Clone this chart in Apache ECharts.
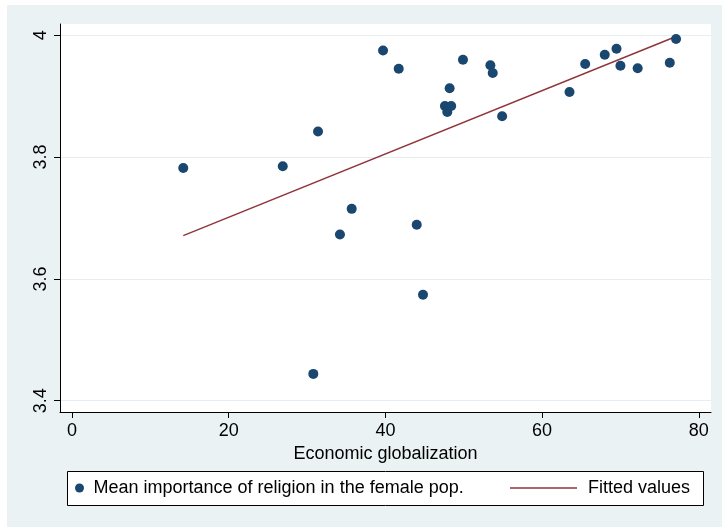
<!DOCTYPE html>
<html>
<head>
<meta charset="utf-8">
<script src="https://cdn.jsdelivr.net/npm/echarts@6/dist/echarts.min.js"></script>
<style>
html,body{margin:0;padding:0;background:#fff;}
#chart{width:722px;height:527px;}
</style>
</head>
<body>
<div id="chart"></div>
<script>
// Data
const globalization = [14.2, 26.9, 31.4, 30.8, 34.2, 35.7, 39.7, 41.7, 44.0, 44.8, 47.6, 47.9, 48.2, 48.4, 49.9, 53.4, 53.7, 54.9, 63.5, 65.5, 68.0, 69.5, 70.0, 72.2, 76.3, 77.1];
const religionImportance = [3.782, 3.785, 3.842, 3.444, 3.673, 3.715, 3.975, 3.945, 3.689, 3.574, 3.884, 3.874, 3.913, 3.884, 3.960, 3.951, 3.938, 3.867, 3.907, 3.953, 3.968, 3.978, 3.950, 3.946, 3.955, 3.994];
const fittedX = [14.2, 77.1];
const fittedY = [3.671, 3.998];
const xTicks = [0, 20, 40, 60, 80];
const yTicks = [3.4, 3.6, 3.8, 4];
const seriesNames = ['Mean importance of religion in the female pop.', 'Fitted values'];
const xTitle = 'Economic globalization';

const FONT = 'Liberation Sans, Arial, Helvetica, sans-serif';
const scatterData = globalization.map((x, i) => [x, religionImportance[i]]);
const fittedData = fittedX.map((x, i) => [x, fittedY[i]]);

const chart = echarts.init(document.getElementById('chart'), null, {renderer: 'canvas'});
chart.setOption({
  animation: false,
  textStyle: {fontFamily: FONT},
  graphic: [
    {type: 'rect', z: -20, silent: true, shape: {x: 7, y: 5, width: 715, height: 522}, style: {fill: '#EAF2F3'}},
    {type: 'rect', z: -10, silent: true, shape: {x: 67.5, y: 471.5, width: 636, height: 34}, style: {fill: '#fff', stroke: '#000', lineWidth: 1}}
  ],
  grid: {left: 60, top: 24, right: 11, bottom: 115, show: true, backgroundColor: '#fff', borderWidth: 0},
  xAxis: {
    type: 'value', min: -1.532, max: 81.56,
    name: xTitle, nameLocation: 'middle', nameGap: 32,
    nameTextStyle: {fontSize: 18, color: '#000', fontFamily: FONT},
    axisLine: {show: true, onZero: false, lineStyle: {color: '#000', width: 1}},
    axisTick: {show: true, length: 6, customValues: xTicks, lineStyle: {color: '#000'}},
    axisLabel: {customValues: xTicks, margin: 10, fontSize: 18, color: '#000', fontFamily: FONT},
    splitLine: {show: false}
  },
  yAxis: {
    type: 'value', min: 3.3814, max: 4.0186,
    axisLine: {show: true, onZero: false, lineStyle: {color: '#000', width: 1}},
    axisTick: {show: true, length: 6, customValues: yTicks, lineStyle: {color: '#000'}},
    axisLabel: {customValues: yTicks, rotate: 90, margin: 10, fontSize: 18, color: '#000', fontFamily: FONT},
    splitLine: {show: false}
  },
  legend: [
    {
      data: [seriesNames[0]], left: 75, top: 479, padding: 0,
      itemWidth: 18, itemHeight: 9, icon: 'circle',
      textStyle: {fontSize: 18, color: '#000', fontFamily: FONT}
    },
    {
      data: [seriesNames[1]], left: 510, top: 479, padding: 0,
      itemWidth: 67, itemHeight: 9, icon: 'path://M0,0H67V1.5H0Z',
      itemStyle: {color: '#90353B'},
      textStyle: {fontSize: 18, color: '#000', fontFamily: FONT, padding: [0, 0, 0, 6]}
    }
  ],
  series: [
    {
      name: seriesNames[0], type: 'scatter', data: scatterData,
      symbol: 'circle', symbolSize: 10,
      itemStyle: {color: '#1A476F', opacity: 1},
      markLine: {
        silent: true, z: 0, symbol: ['none', 'none'], label: {show: false},
        lineStyle: {color: '#E6EEF0', type: 'solid', width: 1.2},
        data: yTicks.map(v => ({yAxis: v}))
      },
      z: 3
    },
    {
      name: seriesNames[1], type: 'line', data: fittedData,
      symbol: 'none', showSymbol: false,
      lineStyle: {color: '#90353B', width: 1.5},
      itemStyle: {color: '#90353B'},
      z: 2
    }
  ]
});
</script>
</body>
</html>
